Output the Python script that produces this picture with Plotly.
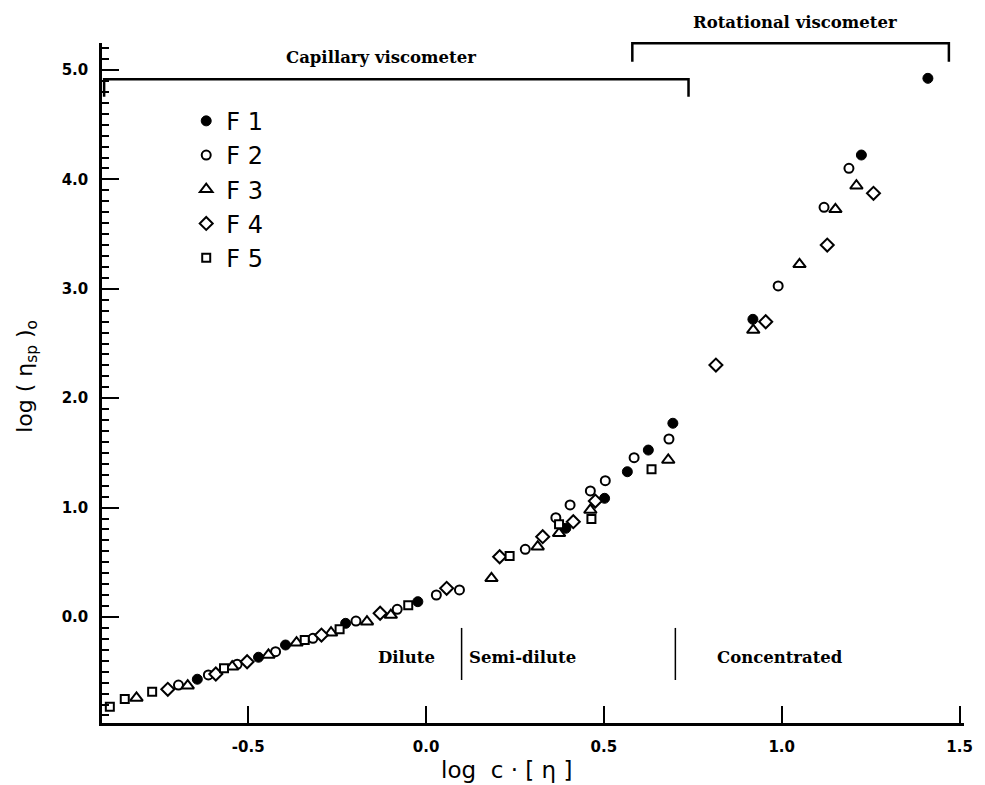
import plotly.graph_objects as go

# ---- data (log c·[η], log (η_sp)_o) ----
f1_x = [-0.643, -0.471, -0.395, -0.226, -0.023, 0.393, 0.502, 0.566, 0.625, 0.694, 0.919, 1.224, 1.411]
f1_y = [-0.569, -0.368, -0.256, -0.058, 0.140, 0.811, 1.085, 1.328, 1.526, 1.771, 2.721, 4.223, 4.924]

f2_x = [-0.696, -0.612, -0.531, -0.423, -0.318, -0.197, -0.081, 0.029, 0.094, 0.279, 0.365, 0.405,
        0.462, 0.504, 0.585, 0.683, 0.990, 1.119, 1.189]
f2_y = [-0.622, -0.530, -0.432, -0.317, -0.195, -0.037, 0.070, 0.201, 0.247, 0.619, 0.908, 1.024,
        1.152, 1.246, 1.456, 1.627, 3.026, 3.745, 4.101]

f3_x = [-0.814, -0.670, -0.545, -0.443, -0.364, -0.267, -0.166, -0.099, 0.184, 0.314, 0.374, 0.462,
        0.681, 0.920, 1.050, 1.151, 1.210]
f3_y = [-0.740, -0.628, -0.454, -0.347, -0.235, -0.144, -0.043, 0.018, 0.354, 0.643, 0.765, 0.978,
        1.435, 2.623, 3.224, 3.727, 3.942]

f4_x = [-0.726, -0.591, -0.503, -0.294, -0.129, 0.058, 0.207, 0.328, 0.414, 0.476, 0.815, 0.955, 1.128, 1.258]
f4_y = [-0.661, -0.521, -0.409, -0.165, 0.034, 0.262, 0.551, 0.734, 0.871, 1.060, 2.303, 2.699, 3.400, 3.873]

f5_x = [-0.889, -0.847, -0.770, -0.568, -0.341, -0.243, -0.050, 0.235, 0.374, 0.465, 0.634]
f5_y = [-0.820, -0.750, -0.683, -0.469, -0.210, -0.112, 0.107, 0.558, 0.847, 0.896, 1.350]

x_ticks = [-0.5, 0.0, 0.5, 1.0, 1.5]
x_ticktext = ["-0.5", "0.0", "0.5", "1.0", "1.5"]
y_ticks = [0, 1, 2, 3, 4, 5]
y_ticktext = ["0.0", "1.0", "2.0", "3.0", "4.0", "5.0"]

series_names = ["F 1", "F 2", "F 3", "F 4", "F 5"]

# regime boundaries and viscometer ranges (log c·[η])
regime_bounds = [0.100, 0.701]
regime_labels = ["Dilute", "Semi-dilute", "Concentrated"]
regime_label_x = [-0.056, 0.272, 0.996]
capillary_range = [-0.905, 0.738]
rotational_range = [0.580, 1.470]

X0, X1 = -0.911, 1.5125
Y0, Y1 = -0.969, 5.247


def yp(v):
    return (v - Y0) / (Y1 - Y0)


fig = go.Figure()

styles = [
    dict(symbol="circle", size=10, color="black", line=dict(color="black", width=1)),
    dict(symbol="circle", size=9, color="white", line=dict(color="black", width=2)),
    dict(symbol="triangle-up", size=11, color="white", line=dict(color="black", width=2)),
    dict(symbol="diamond", size=10, color="white", line=dict(color="black", width=2)),
    dict(symbol="square", size=8, color="white", line=dict(color="black", width=2)),
]
data = [(f1_x, f1_y), (f2_x, f2_y), (f3_x, f3_y), (f4_x, f4_y), (f5_x, f5_y)]
for (xs, ys), name, st in zip(data, series_names, styles):
    fig.add_trace(go.Scatter(x=xs, y=ys, mode="markers", name=name, marker=st))

shapes = []
# capillary bracket
shapes.append(dict(type="path", xref="x", yref="paper",
                   path=f"M {capillary_range[0]},{yp(4.756)} L {capillary_range[0]},{yp(4.915)} "
                        f"L {capillary_range[1]},{yp(4.915)} L {capillary_range[1]},{yp(4.756)}",
                   line=dict(color="black", width=2.5)))
# rotational bracket
shapes.append(dict(type="path", xref="x", yref="paper",
                   path=f"M {rotational_range[0]},{yp(5.076)} L {rotational_range[0]},{yp(5.244)} "
                        f"L {rotational_range[1]},{yp(5.244)} L {rotational_range[1]},{yp(5.076)}",
                   line=dict(color="black", width=2.5)))
for b in regime_bounds:
    shapes.append(dict(type="line", xref="x", yref="y", x0=b, x1=b, y0=-0.10, y1=-0.576,
                       line=dict(color="black", width=1.5)))

serif = dict(family="DejaVu Serif", size=16.5, color="black", weight="bold")
annotations = [
    dict(x=-0.128, y=yp(5.119), xref="x", yref="paper", text="Capillary viscometer",
         showarrow=False, font=serif, xanchor="center", yanchor="middle"),
    dict(x=1.038, y=yp(5.432), xref="x", yref="paper", text="Rotational viscometer",
         showarrow=False, font=serif, xanchor="center", yanchor="middle"),
]
for lx, lt in zip(regime_label_x, regime_labels):
    annotations.append(dict(x=lx, y=-0.366, xref="x", yref="y", text=lt, showarrow=False,
                            font=serif, xanchor="center", yanchor="middle"))
annotations.append(dict(x=0.469, y=-0.069, xref="paper", yref="paper",
                        text="log  c · [ η ]", showarrow=False,
                        font=dict(family="DejaVu Sans", size=23, color="black"),
                        xanchor="center", yanchor="middle"))
annotations.append(dict(x=-0.0874, y=0.51, xref="paper", yref="paper",
                        text="log ( η<sub>sp</sub> )<sub>o</sub>", showarrow=False, textangle=-90,
                        font=dict(family="DejaVu Sans", size=22, color="black"),
                        xanchor="center", yanchor="middle"))

tickfont = dict(family="DejaVu Sans", size=15, color="black", weight="bold")
fig.update_layout(
    width=985, height=785,
    margin=dict(l=102, r=13, t=43, b=62),
    paper_bgcolor="white", plot_bgcolor="white",
    shapes=shapes, annotations=annotations,
    showlegend=True,
    legend=dict(x=0.0977, y=0.918, xanchor="left", yanchor="top",
                font=dict(family="DejaVu Sans", size=24, color="black"),
                bgcolor="rgba(0,0,0,0)", borderwidth=0, itemwidth=30),
    xaxis=dict(range=[X0, X1], showline=True, linecolor="black", linewidth=2.5,
               ticks="inside", ticklen=17, tickwidth=2, tickcolor="black",
               tickvals=x_ticks, ticktext=x_ticktext, tickfont=tickfont,
               ticklabelstandoff=8, showgrid=False, zeroline=False),
    yaxis=dict(range=[Y0, Y1], showline=True, linecolor="black", linewidth=2.5,
               ticks="inside", ticklen=17, tickwidth=2, tickcolor="black",
               tickvals=y_ticks, ticktext=y_ticktext, tickfont=tickfont,
               ticklabelstandoff=8, showgrid=False, zeroline=False,
               minor=dict(ticks="inside", ticklen=7, tickwidth=1.5, tickcolor="black",
                          dtick=0.1, showgrid=False)),
)

fig.write_html("out.html")
